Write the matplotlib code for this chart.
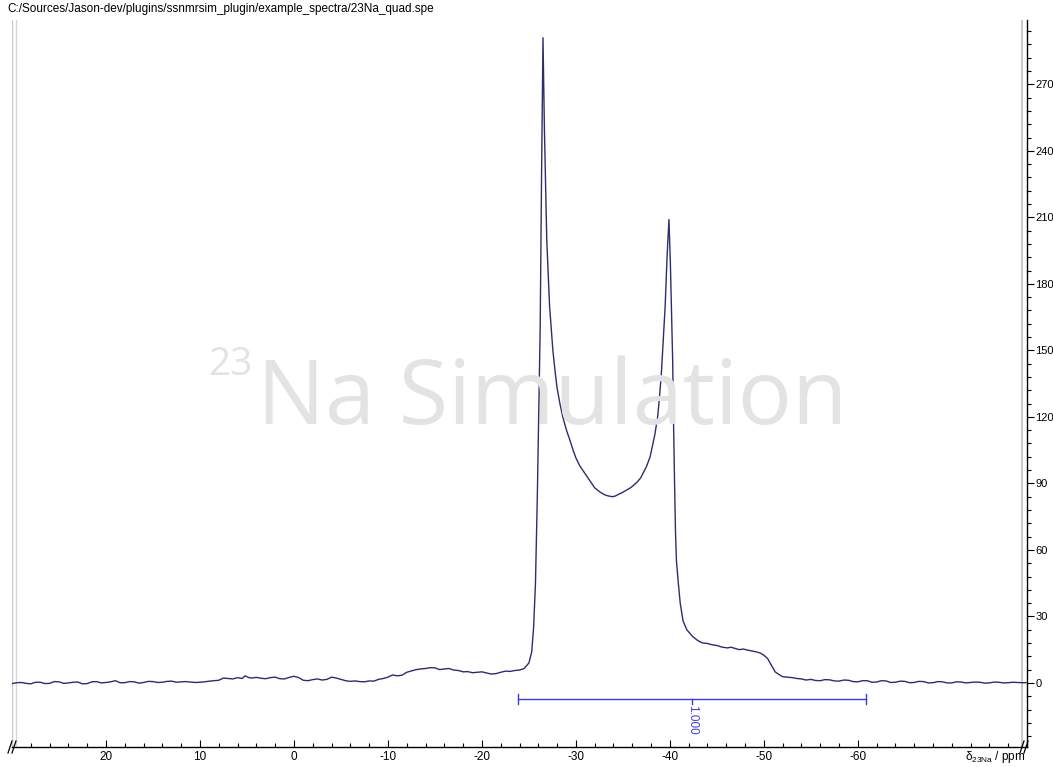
import matplotlib
matplotlib.use("Agg")
import matplotlib.pyplot as plt
from matplotlib.ticker import MultipleLocator

plt.rcParams['font.family'] = ['Liberation Sans', 'DejaVu Sans']
plt.rcParams['axes.unicode_minus'] = False
plt.rcParams['mathtext.fontset'] = 'custom'
plt.rcParams['mathtext.rm'] = 'Liberation Sans'
plt.rcParams['mathtext.it'] = 'Liberation Sans'

title_text = "C:/Sources/Jason-dev/plugins/ssnmrsim_plugin/example_spectra/23Na_quad.spe"

# --- spectrum (ppm, intensity) per region ---
left_ppm = [30, 29.5, 29, 28.5, 28, 27.5, 27, 26.5, 26, 25.5,
            25, 24.5, 24, 23.5, 23, 22.5, 22, 21.5, 21, 20.5,
            20, 19.5, 19, 18.5, 18, 17.5, 17, 16.5, 16, 15.5,
            15, 14.5, 14, 13.5, 13, 12.5, 12, 11.5, 11, 10.5,
            10, 9.5, 9, 8.5, 8]
left_int = [-0.3, 0.1, 0.2, -0.2, -0.4, 0.3, 0.3, -0.3, -0.2, 0.6,
            0.5, -0.2, 0.0, 0.3, 0.4, -0.4, -0.3, 0.5, 0.6, 0.0,
            0.2, 0.5, 1.0, 0.1, 0.1, 0.6, 0.5, -0.1, 0.2, 0.7,
            0.6, 0.2, 0.3, 0.7, 0.8, 0.3, 0.5, 0.6, 0.4, 0.2,
            0.3, 0.5, 0.8, 1.0, 1.2]

mid_ppm = [7.5, 7, 6.5, 6, 5.5, 5.2, 4.8, 4.5, 4, 3.5,
           3, 2.5, 2, 1.5, 1, 0.5, 0]
mid_int = [2.2, 2.0, 1.8, 2.4, 2.0, 3.2, 2.4, 2.2, 2.5, 2.1,
           1.9, 2.4, 2.6, 1.9, 1.8, 2.5, 3.0]

hump_ppm = [-0.5, -1, -1.5, -2, -2.5, -3, -3.5, -4, -4.5, -5,
            -5.5, -6, -6.5, -7, -7.5, -8, -8.5, -9, -9.5, -10,
            -10.5, -11, -11.5, -12, -12.5, -13, -13.5, -14, -14.5, -15,
            -15.5, -16, -16.5, -17, -17.5, -18, -18.5, -19, -19.5, -20,
            -20.5, -21, -21.5, -22, -22.5, -23, -23.5, -24, -24.5]
hump_int = [2.4, 1.2, 1.0, 1.5, 1.8, 1.3, 1.6, 2.6, 2.2, 1.6,
            1.0, 0.7, 0.9, 0.6, 0.5, 0.9, 0.8, 1.6, 2.0, 2.6,
            3.6, 3.2, 3.5, 4.8, 5.4, 6.0, 6.3, 6.5, 6.9, 6.8,
            6.0, 6.3, 6.5, 5.8, 5.6, 5.0, 5.1, 4.6, 4.8, 5.0,
            4.5, 4.0, 4.2, 4.8, 5.3, 5.2, 5.6, 5.8, 6.5]

peak_ppm = [-25.0, -25.3, -25.5, -25.7, -25.9, -26.0, -26.2, -26.35, -26.5, -26.65,
            -26.9, -27.2, -27.55, -27.8, -28.0, -28.3, -28.6, -29.0, -29.4, -29.7,
            -30.0, -30.4, -30.8, -31.2, -31.6, -32.0, -32.3, -32.6, -33.0, -33.3,
            -33.6, -33.9, -34.2, -34.5, -35.0, -35.4, -35.8, -36.1, -36.5, -36.9,
            -37.2, -37.5, -37.9, -38.1, -38.4, -38.7, -38.9, -39.1, -39.3, -39.5,
            -39.7, -39.9, -40.05, -40.2, -40.3, -40.4, -40.5, -40.6, -40.7, -40.9,
            -41.1, -41.4, -41.8, -42.4, -43.0, -43.5, -44.0, -44.5, -45.0, -45.5,
            -46.1, -46.5, -47.0, -47.4, -47.8, -48.5, -49.2, -49.6, -50.0, -50.4,
            -50.8, -51.2, -51.6, -52.0]
peak_int = [9.0, 14, 25, 45, 85, 110, 160, 230, 291, 250,
            200, 170, 150, 140, 133, 126, 120, 114, 109, 105,
            101.5, 98, 95.5, 93, 90.5, 88, 87, 86, 85, 84.5,
            84.2, 84, 84.3, 85, 86, 87, 88, 89, 90.5, 92.5,
            95, 97.5, 102, 106, 112, 120, 129, 140, 155, 170,
            192, 209, 190, 164, 145, 115, 90, 68, 55, 45,
            36, 28, 24, 21, 19, 18, 17.8, 17.2, 16.9, 16.2,
            15.8, 16.1, 15.5, 15.0, 15.3, 14.6, 14.0, 13.5, 12.5, 11.0,
            8.0, 5.0, 3.8, 2.8]

right_ppm = [-52.5, -53, -53.5, -54, -54.5, -55, -55.5, -56, -56.5, -57,
             -57.5, -58, -58.5, -59, -59.5, -60, -60.5, -61, -61.5, -62,
             -62.5, -63, -63.5, -64, -64.5, -65, -65.5, -66, -66.5, -67,
             -67.5, -68, -68.5, -69, -69.5, -70, -70.5, -71, -71.5, -72,
             -72.5, -73, -73.5, -74, -74.5, -75, -75.5, -76, -76.5, -77,
             -77.5, -77.9]
right_int = [2.6, 2.4, 2.0, 1.8, 1.3, 1.6, 1.1, 1.0, 1.5, 1.4,
             0.9, 0.8, 1.3, 1.2, 0.6, 0.5, 1.0, 1.0, 0.3, 0.4,
             1.0, 0.9, 0.2, 0.3, 0.8, 0.7, 0.1, 0.2, 0.7, 0.6,
             0.0, 0.1, 0.6, 0.5, 0.0, 0.0, 0.5, 0.4, 0.0, 0.2,
             0.4, 0.3, -0.1, 0.0, 0.4, 0.3, 0.0, 0.1, 0.3, 0.2,
             0.1, 0.1]

ppm = left_ppm + mid_ppm + hump_ppm + peak_ppm + right_ppm
intensity = left_int + mid_int + hump_int + peak_int + right_int

integral_range = [-23.8, -60.9]
integral_level = -7.2
integral_label = "1.000"
watermark_sup = "23"
watermark_text = "Na Simulation"
x_tick_values = [20, 10, 0, -10, -20, -30, -40, -50, -60]
y_tick_values = [0, 30, 60, 90, 120, 150, 180, 210, 240, 270]

W, H = 1053, 767
fig = plt.figure(figsize=(W / 100, H / 100), dpi=100)
ax_l, ax_r, ax_t, ax_b = 12, 1027, 20, 747
ax = fig.add_axes([ax_l / W, 1 - ax_b / H, (ax_r - ax_l) / W, (ax_b - ax_t) / H])

line_col = '#2d2d6e'
int_col = '#3c3cdc'
wm_col = '#e3e3e3'

ax.plot(ppm, intensity, color=line_col, lw=1.0, zorder=3)
ax.set_xlim(30.0, -78.0)
ax.set_ylim(-28.9, 299)

# integral bar
x0, x1 = integral_range
ax.plot([x0, x1], [integral_level, integral_level], color=int_col, lw=1.0)
for xe in (x0, x1):
    ax.plot([xe, xe], [integral_level - 2.2, integral_level + 2.2], color=int_col, lw=1.0)
xm = (x0 + x1) / 2
ax.plot([xm, xm], [integral_level, integral_level - 2.2], color=int_col, lw=1.0)
ax.text(xm, integral_level - 2.8, integral_label, rotation=270, color=int_col,
        ha='center', va='top', fontsize=8.5)

# watermark (pixel placement)
wm_family = ['Open Sans', 'DejaVu Sans']
fig.text(252 / W, 1 - 375 / H, watermark_sup, fontsize=28, color=wm_col,
         family=wm_family, ha='right', va='baseline', zorder=0)
fig.text(257 / W, 1 - 424 / H, watermark_text, fontsize=65, color=wm_col,
         family=wm_family, ha='left', va='baseline', zorder=0)
ax.patch.set_alpha(0)

# spines
for s in ('top', 'left'):
    ax.spines[s].set_visible(False)
ax.spines['bottom'].set_linewidth(1.0)
ax.spines['right'].set_linewidth(1.0)

ax.yaxis.tick_right()
ax.xaxis.set_minor_locator(MultipleLocator(2))
ax.yaxis.set_minor_locator(MultipleLocator(6))
ax.tick_params(axis='x', which='major', direction='in', length=5, width=0.8, labelsize=8.5, pad=3)
ax.tick_params(axis='x', which='minor', direction='in', length=3, width=0.8)
ax.tick_params(axis='y', which='major', direction='out', length=5, width=0.8, labelsize=8.0, pad=1)
ax.tick_params(axis='y', which='minor', direction='out', length=3, width=0.8)

ax.set_xticks(x_tick_values)
ax.set_xticklabels([str(v) for v in x_tick_values])
ax.set_yticks(y_tick_values)

# gray frame lines
ax.axvline(29.95, color='#c8c8c8', lw=1.0)
ax.axvline(29.55, color='#d8d8d8', lw=1.0)
ax.axvline(-77.45, color='#c8c8c8', lw=1.5)

# axis label
fig.text(965 / W, 1 - 757 / H, r'$\delta_{\mathrm{23Na}}$ / ppm', fontsize=8.5, ha='left', va='center')

# title
fig.text(7 / W, 1 - 9 / H, title_text, fontsize=8.5, ha='left', va='center')

# break marks
def brk(xp, yp):
    for dx in (0, 4):
        fig.add_artist(plt.Line2D([(xp + dx - 2) / W, (xp + dx + 2) / W],
                                  [1 - (yp + 6) / H, 1 - (yp - 6) / H], color='black', lw=0.9))

brk(10, 747)
brk(1022, 747)

fig.savefig('out.png', dpi=100)
